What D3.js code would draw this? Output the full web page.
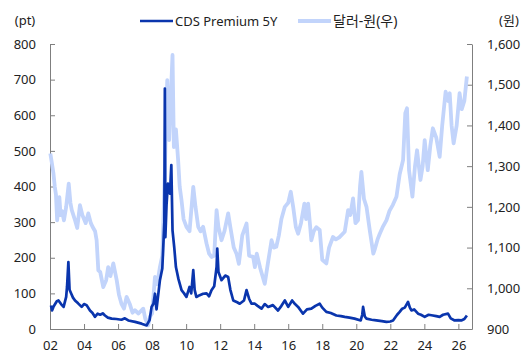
<!DOCTYPE html>
<html>
<head>
<meta charset="utf-8">
<script src="https://cdn.jsdelivr.net/npm/d3@7"></script>
<style>
  body { margin: 0; background: #fff; }
  text { font-family: "Noto Sans", "Noto Sans CJK KR", sans-serif; fill: #222; }
</style>
</head>
<body>
<div id="chart"></div>
<script>
// ---- data ----
const cdsDates = [2002.06,2002.12,2002.2,2002.3,2002.4,2002.5,2002.65,2002.8,2002.95,2003.0,2003.08,2003.15,2003.25,2003.35,2003.47,2003.65,2003.86,2004.0,2004.15,2004.35,2004.5,2004.64,2004.8,2004.95,2005.1,2005.23,2005.4,2005.62,2005.9,2006.2,2006.4,2006.6,2007.0,2007.38,2007.68,2007.85,2007.97,2008.08,2008.17,2008.26,2008.46,2008.6,2008.72,2008.75,2008.78,2008.85,2008.93,2009.05,2009.13,2009.2,2009.3,2009.4,2009.55,2009.73,2009.88,2010.02,2010.2,2010.3,2010.42,2010.5,2010.6,2010.8,2011.0,2011.2,2011.35,2011.49,2011.65,2011.79,2011.83,2011.9,2012.08,2012.3,2012.47,2012.6,2012.77,2013.0,2013.15,2013.4,2013.55,2013.7,2013.84,2014.04,2014.2,2014.43,2014.62,2014.82,2015.1,2015.4,2015.6,2015.8,2016.0,2016.23,2016.4,2016.58,2016.87,2017.1,2017.36,2017.6,2017.85,2018.0,2018.24,2018.5,2018.83,2019.1,2019.32,2019.6,2019.9,2020.26,2020.35,2020.4,2020.5,2020.6,2020.9,2021.18,2021.5,2021.77,2022.0,2022.16,2022.4,2022.55,2022.7,2022.85,2023.04,2023.15,2023.24,2023.4,2023.63,2023.8,2024.02,2024.25,2024.5,2024.7,2024.9,2025.1,2025.39,2025.55,2025.78,2026.0,2026.17,2026.35,2026.5];
const cdsValues = [66,52,62,70,78,80,70,62,90,118,188,110,99,88,80,72,62,70,67,52,45,34,43,40,44,38,32,29,28,26,30,24,20,15,10,25,62,71,99,55,137,170,300,675,258,350,408,380,460,277,230,174,140,109,100,90,118,100,165,110,90,95,99,100,92,109,120,174,226,160,137,150,146,110,80,75,71,80,109,85,71,71,65,57,70,62,67,52,65,80,62,80,70,62,43,55,57,65,71,60,48,45,38,36,34,32,29,24,40,62,35,29,26,24,22,20,21,24,40,48,57,60,76,60,52,55,43,40,34,40,38,36,34,40,43,30,24,25,24,28,38];

const krwDates = [2002.02,2002.1,2002.2,2002.28,2002.35,2002.42,2002.55,2002.62,2002.7,2002.82,2002.95,2003.1,2003.2,2003.28,2003.45,2003.6,2003.76,2003.9,2004.1,2004.25,2004.4,2004.5,2004.65,2004.74,2004.84,2004.95,2005.13,2005.3,2005.42,2005.55,2005.72,2005.92,2006.05,2006.2,2006.35,2006.5,2006.7,2006.85,2006.99,2007.2,2007.48,2007.6,2007.77,2007.87,2008.0,2008.17,2008.3,2008.46,2008.6,2008.75,2008.82,2008.89,2008.95,2009.0,2009.1,2009.2,2009.28,2009.4,2009.53,2009.62,2009.73,2009.85,2010.02,2010.2,2010.42,2010.55,2010.71,2010.85,2011.0,2011.2,2011.35,2011.49,2011.65,2011.79,2011.9,2012.08,2012.25,2012.47,2012.6,2012.8,2012.96,2013.1,2013.3,2013.55,2013.7,2013.94,2014.04,2014.15,2014.35,2014.62,2014.8,2015.02,2015.15,2015.3,2015.45,2015.6,2015.8,2016.0,2016.15,2016.29,2016.45,2016.58,2016.75,2016.95,2017.05,2017.17,2017.36,2017.5,2017.65,2017.85,2018.0,2018.24,2018.4,2018.63,2018.8,2019.0,2019.32,2019.52,2019.65,2019.81,2019.95,2020.1,2020.22,2020.3,2020.45,2020.6,2020.8,2021.0,2021.08,2021.25,2021.38,2021.55,2021.77,2021.95,2022.15,2022.36,2022.55,2022.75,2022.88,2022.98,2023.1,2023.3,2023.45,2023.57,2023.77,2023.9,2024.02,2024.2,2024.35,2024.5,2024.7,2024.9,2025.05,2025.25,2025.4,2025.49,2025.6,2025.72,2025.9,2026.07,2026.2,2026.35,2026.5];
const krwValues = [1331,1310,1283,1250,1230,1167,1224,1180,1190,1167,1200,1257,1210,1192,1170,1148,1204,1180,1160,1184,1160,1151,1140,1118,1044,1040,1003,1020,1052,1030,1061,1020,985,962,950,979,960,940,946,938,950,925,909,930,938,1028,1010,1052,1080,1283,1420,1511,1420,1364,1470,1573,1347,1390,1315,1250,1216,1170,1151,1140,1249,1200,1151,1140,1151,1110,1085,1077,1080,1192,1150,1118,1140,1184,1150,1100,1085,1060,1130,1159,1080,1077,1052,1085,1050,1011,1060,1118,1100,1102,1130,1170,1200,1210,1237,1200,1150,1134,1160,1208,1170,1208,1118,1140,1150,1143,1070,1061,1100,1126,1120,1125,1139,1192,1180,1221,1160,1167,1250,1286,1220,1200,1140,1085,1095,1120,1134,1150,1167,1190,1205,1225,1280,1315,1430,1442,1290,1225,1300,1339,1266,1300,1364,1290,1350,1393,1370,1323,1400,1483,1460,1479,1400,1356,1400,1479,1440,1460,1520];

const xTicks = [2002,2004,2006,2008,2010,2012,2014,2016,2018,2020,2022,2024,2026];
const leftTicks = [0,100,200,300,400,500,600,700,800];
const rightTicks = [900,1000,1100,1200,1300,1400,1500,1600];

const seriesNames = ['CDS Premium 5Y', '달러-원(우)'];
const colors = { cds: '#0a35ad', krw: '#c2d4fb' };

// ---- layout ----
const width = 532, height = 363;
const margin = { top: 44, right: 60, bottom: 34, left: 50 };
const innerW = width - margin.left - margin.right;
const innerH = height - margin.top - margin.bottom;

const svg = d3.select('#chart').append('svg')
  .attr('width', width)
  .attr('height', height);

const g = svg.append('g')
  .attr('transform', `translate(${margin.left},${margin.top})`);

// scales
const x = d3.scaleLinear().domain([2002, 2026.8]).range([0, innerW]);
const yL = d3.scaleLinear().domain([0, 800]).range([innerH, 0]);
const yR = d3.scaleLinear().domain([900, 1600]).range([innerH, 0]);

// axes
const axisColor = '#7f7f7f';
function styleAxis(sel) {
  sel.selectAll('path, line').attr('stroke', axisColor);
  sel.selectAll('text')
    .style('font-size', '13px')
    .style('font-family', '"Noto Sans", sans-serif')
    .attr('fill', '#222');
}

g.append('g')
  .attr('transform', `translate(0,${innerH})`)
  .call(d3.axisBottom(x).tickValues(xTicks).tickSize(-5).tickSizeOuter(0)
    .tickPadding(12).tickFormat(d => String(d).slice(2)))
  .call(styleAxis);

g.append('g')
  .call(d3.axisLeft(yL).tickValues(leftTicks).tickSize(-5).tickSizeOuter(0)
    .tickPadding(14))
  .call(styleAxis);

g.append('g')
  .attr('transform', `translate(${innerW},0)`)
  .call(d3.axisRight(yR).tickValues(rightTicks).tickSize(-5).tickSizeOuter(0)
    .tickPadding(15).tickFormat(d3.format(',')))
  .call(styleAxis);

// lines
const krwData = krwDates.map((d, i) => [d, krwValues[i]]);
const cdsData = cdsDates.map((d, i) => [d, cdsValues[i]]);

g.append('path')
  .datum(krwData)
  .attr('fill', 'none')
  .attr('stroke', colors.krw)
  .attr('stroke-width', 3.8)
  .attr('stroke-linejoin', 'round')
  .attr('d', d3.line().x(d => x(d[0])).y(d => yR(d[1])));

g.append('path')
  .datum(cdsData)
  .attr('fill', 'none')
  .attr('stroke', colors.cds)
  .attr('stroke-width', 2.7)
  .attr('stroke-linejoin', 'round')
  .attr('d', d3.line().x(d => x(d[0])).y(d => yL(d[1])));

// unit labels
svg.append('text').attr('x', 25).attr('y', 25).attr('text-anchor', 'middle')
  .style('font-size', '13px').text('(pt)');
svg.append('text').attr('x', 509).attr('y', 25).attr('text-anchor', 'middle')
  .style('font-size', '13px').text('(원)');

// legend
const legend = [
  { name: seriesNames[0], color: colors.cds, w: 2.7, x: 140 },
  { name: seriesNames[1], color: colors.krw, w: 3.8, x: 298 }
];
legend.forEach(l => {
  svg.append('line')
    .attr('x1', l.x).attr('x2', l.x + 33)
    .attr('y1', 21).attr('y2', 21)
    .attr('stroke', l.color).attr('stroke-width', l.w);
  svg.append('text')
    .attr('x', l.x + 35).attr('y', 26)
    .style('font-size', l.name === seriesNames[1] ? '14px' : '13px')
    .text(l.name);
});
</script>
</body>
</html>
